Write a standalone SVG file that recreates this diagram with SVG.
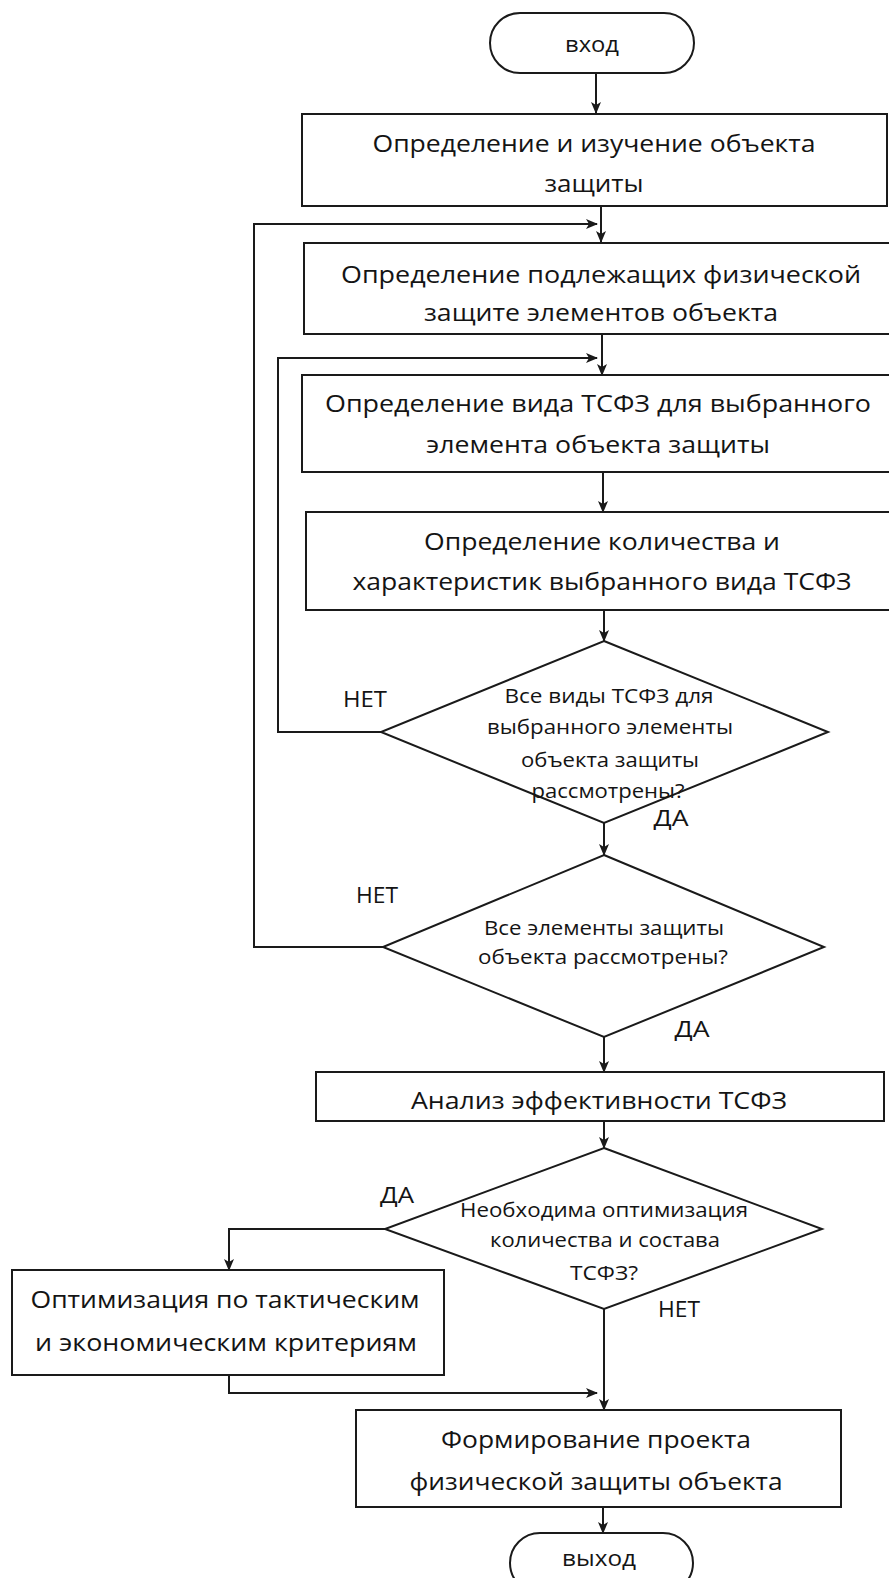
<svg xmlns="http://www.w3.org/2000/svg" width="889" height="1578" viewBox="0 0 889 1578">
<defs>
<marker id="ah" markerWidth="12" markerHeight="10" refX="11" refY="5" orient="auto" markerUnits="userSpaceOnUse">
<path d="M0,0 L12,5 L0,10 L3,5 z" fill="#1a1a1a"/>
</marker>
<style>
.n{fill:#fff;stroke:#1a1a1a;stroke-width:2}
.c{fill:none;stroke:#1a1a1a;stroke-width:2}
.a{marker-end:url(#ah)}
text{font-family:"Open Sans","Noto Sans","DejaVu Sans",sans-serif;fill:#141414;text-anchor:middle}
.b{font-size:23px}
.d{font-size:20px}
.l{font-size:21px}
</style>
</defs>
<rect width="889" height="1578" fill="#fff"/>
<g id="connectors">
<path class="c a" d="M596,73 V113"/>
<path class="c a" d="M601,206 V242"/>
<path class="c a" d="M383,947 H254 V224 H597"/>
<path class="c a" d="M602,334 V375"/>
<path class="c a" d="M381,732 H278 V358 H597"/>
<path class="c a" d="M603,472 V512"/>
<path class="c a" d="M604,610 V641"/>
<path class="c a" d="M604,823 V855"/>
<path class="c a" d="M604,1037 V1072"/>
<path class="c a" d="M604,1121 V1148"/>
<path class="c a" d="M385,1229 H229 V1270"/>
<path class="c a" d="M229,1375 V1393 H597"/>
<path class="c a" d="M604,1309 V1410"/>
<path class="c a" d="M603,1507 V1533"/>
</g>
<g id="start">
<rect class="n" x="490" y="13" width="204" height="60" rx="30"/>
<text class="l" x="592" y="52" textLength="54" lengthAdjust="spacingAndGlyphs">вход</text>
</g>
<g id="box1">
<rect class="n" x="302" y="114" width="585" height="92"/>
<text class="b" x="594" y="152" textLength="443" lengthAdjust="spacingAndGlyphs">Определение и изучение объекта</text>
<text class="b" x="594" y="192" textLength="99" lengthAdjust="spacingAndGlyphs">защиты</text>
</g>
<g id="box2">
<rect class="n" x="304" y="243" width="600" height="91"/>
<text class="b" x="601" y="283" textLength="520" lengthAdjust="spacingAndGlyphs">Определение подлежащих физической</text>
<text class="b" x="601" y="321" textLength="354" lengthAdjust="spacingAndGlyphs">защите элементов объекта</text>
</g>
<g id="box3">
<rect class="n" x="302" y="375" width="600" height="97"/>
<text class="b" x="598" y="412" textLength="546" lengthAdjust="spacingAndGlyphs">Определение вида ТСФЗ для выбранного</text>
<text class="b" x="598" y="453" textLength="344" lengthAdjust="spacingAndGlyphs">элемента объекта защиты</text>
</g>
<g id="box4">
<rect class="n" x="306" y="512" width="600" height="98"/>
<text class="b" x="602" y="550" textLength="356" lengthAdjust="spacingAndGlyphs">Определение количества и</text>
<text class="b" x="602" y="590" textLength="499" lengthAdjust="spacingAndGlyphs">характеристик выбранного вида ТСФЗ</text>
</g>
<g id="decision1">
<polygon class="n" points="604,641 828,732 604,823 381,732"/>
<text class="d" x="609" y="703" textLength="209" lengthAdjust="spacingAndGlyphs">Все виды ТСФЗ для</text>
<text class="d" x="610" y="734" textLength="246" lengthAdjust="spacingAndGlyphs">выбранного элементы</text>
<text class="d" x="610" y="767" textLength="178" lengthAdjust="spacingAndGlyphs">объекта защиты</text>
<text class="d" x="608" y="798" textLength="153" lengthAdjust="spacingAndGlyphs">рассмотрены?</text>
</g>
<g id="decision2">
<polygon class="n" points="604,855 824,947 604,1037 383,947"/>
<text class="d" x="604" y="935" textLength="240" lengthAdjust="spacingAndGlyphs">Все элементы защиты</text>
<text class="d" x="603" y="964" textLength="250" lengthAdjust="spacingAndGlyphs">объекта рассмотрены?</text>
</g>
<g id="box5">
<rect class="n" x="316" y="1072" width="568" height="49"/>
<text class="b" x="599" y="1109" textLength="376" lengthAdjust="spacingAndGlyphs">Анализ эффективности ТСФЗ</text>
</g>
<g id="decision3">
<polygon class="n" points="604,1148 822,1229 604,1309 385,1229"/>
<text class="d" x="604" y="1217" textLength="288" lengthAdjust="spacingAndGlyphs">Необходима оптимизация</text>
<text class="d" x="605" y="1247" textLength="230" lengthAdjust="spacingAndGlyphs">количества и состава</text>
<text class="d" x="604" y="1280" textLength="68" lengthAdjust="spacingAndGlyphs">ТСФЗ?</text>
</g>
<g id="box6">
<rect class="n" x="12" y="1270" width="432" height="105"/>
<text class="b" x="225" y="1308" textLength="389" lengthAdjust="spacingAndGlyphs">Оптимизация по тактическим</text>
<text class="b" x="226" y="1351" textLength="382" lengthAdjust="spacingAndGlyphs">и экономическим критериям</text>
</g>
<g id="box7">
<rect class="n" x="356" y="1410" width="485" height="97"/>
<text class="b" x="596" y="1448" textLength="310" lengthAdjust="spacingAndGlyphs">Формирование проекта</text>
<text class="b" x="596" y="1490" textLength="373" lengthAdjust="spacingAndGlyphs">физической защиты объекта</text>
</g>
<g id="end">
<rect class="n" x="510" y="1533" width="183" height="60" rx="30"/>
<text class="l" x="599" y="1566" textLength="74" lengthAdjust="spacingAndGlyphs">выход</text>
</g>
<g id="labels">
<text class="l" x="365" y="707" textLength="44" lengthAdjust="spacingAndGlyphs">НЕТ</text>
<text class="l" x="671" y="826" textLength="35" lengthAdjust="spacingAndGlyphs">ДА</text>
<text class="l" x="377" y="903" textLength="42" lengthAdjust="spacingAndGlyphs">НЕТ</text>
<text class="l" x="692" y="1037" textLength="35" lengthAdjust="spacingAndGlyphs">ДА</text>
<text class="l" x="397" y="1203" textLength="34" lengthAdjust="spacingAndGlyphs">ДА</text>
<text class="l" x="679" y="1317" textLength="42" lengthAdjust="spacingAndGlyphs">НЕТ</text>
</g>
</svg>
